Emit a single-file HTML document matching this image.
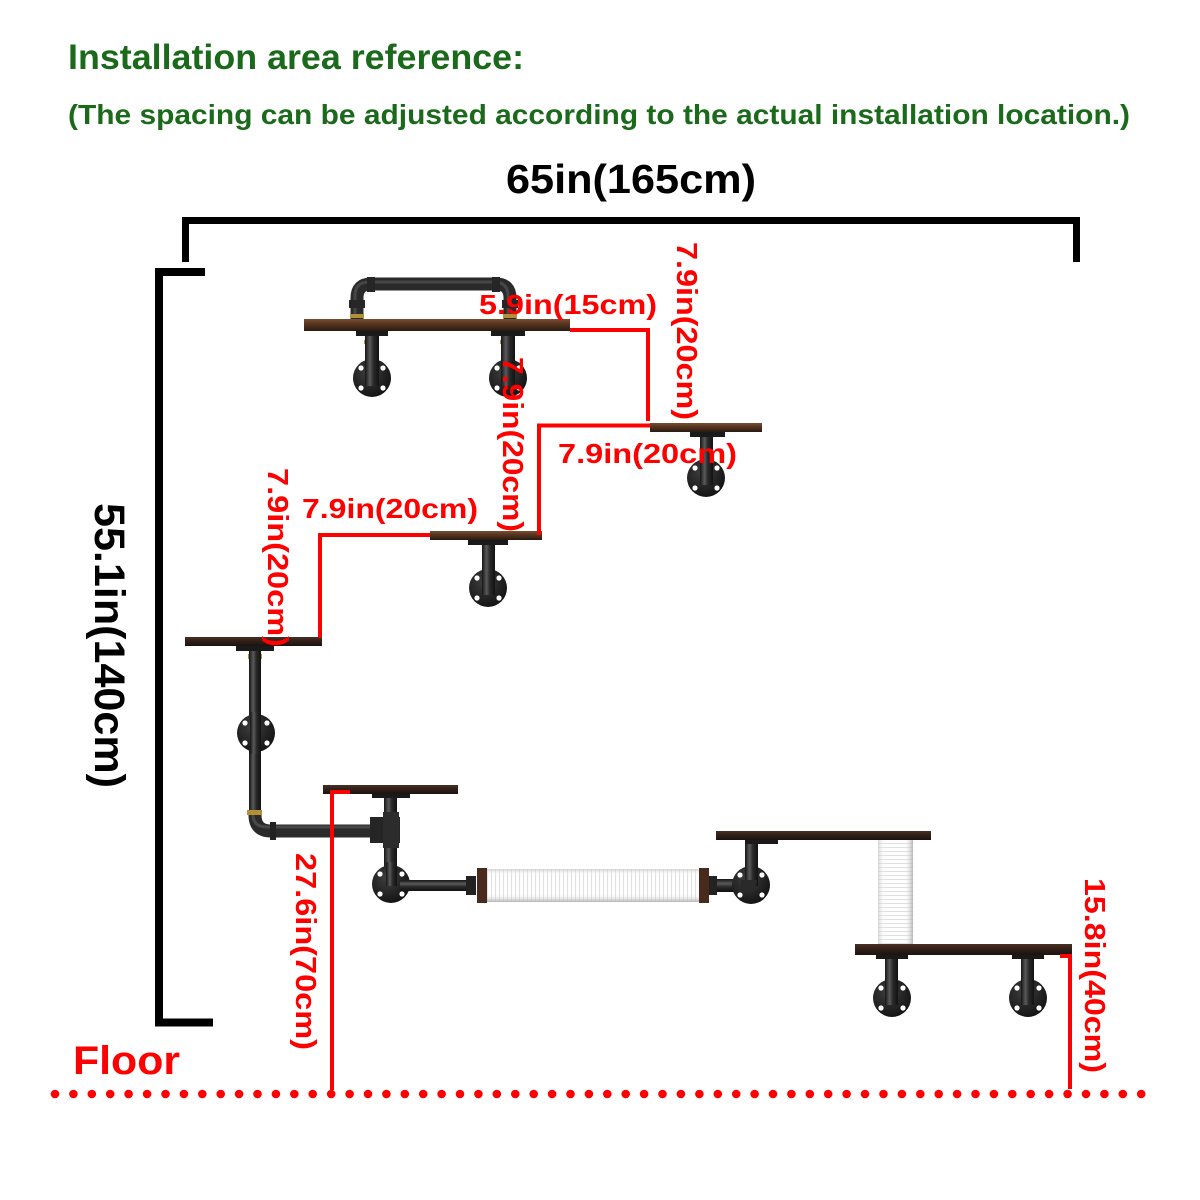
<!DOCTYPE html>
<html><head><meta charset="utf-8"><style>
html,body{margin:0;padding:0;background:#fff;}
svg{display:block;}
text{font-family:"Liberation Sans",Arial,sans-serif;font-weight:bold;}
</style></head><body>
<svg width="1200" height="1200" viewBox="0 0 1200 1200" xmlns="http://www.w3.org/2000/svg">
<defs>
 <linearGradient id="wood" x1="0" y1="0" x2="0" y2="1">
  <stop offset="0" stop-color="#7a4e30"/><stop offset="0.35" stop-color="#5a3822"/><stop offset="1" stop-color="#2a1a10"/>
 </linearGradient>
 <linearGradient id="wood2" x1="0" y1="0" x2="0" y2="1">
  <stop offset="0" stop-color="#4a3024"/><stop offset="0.4" stop-color="#33211a"/><stop offset="1" stop-color="#1c120d"/>
 </linearGradient>
 <linearGradient id="pv" x1="0" y1="0" x2="1" y2="0">
  <stop offset="0" stop-color="#151515"/><stop offset="0.35" stop-color="#5a5a5a"/><stop offset="0.6" stop-color="#2a2a2a"/><stop offset="1" stop-color="#111"/>
 </linearGradient>
 <linearGradient id="ph" x1="0" y1="0" x2="0" y2="1">
  <stop offset="0" stop-color="#151515"/><stop offset="0.35" stop-color="#5a5a5a"/><stop offset="0.6" stop-color="#2a2a2a"/><stop offset="1" stop-color="#111"/>
 </linearGradient>
 <linearGradient id="rollShadeH" x1="0" y1="0" x2="0" y2="1">
  <stop offset="0" stop-color="#bdbdbd" stop-opacity="0.6"/><stop offset="0.2" stop-color="#fff" stop-opacity="0"/><stop offset="0.75" stop-color="#fff" stop-opacity="0"/><stop offset="1" stop-color="#9a9a9a" stop-opacity="0.7"/>
 </linearGradient>
 <linearGradient id="rollShadeV" x1="0" y1="0" x2="1" y2="0">
  <stop offset="0" stop-color="#bdbdbd" stop-opacity="0.6"/><stop offset="0.2" stop-color="#fff" stop-opacity="0"/><stop offset="0.75" stop-color="#fff" stop-opacity="0"/><stop offset="1" stop-color="#9a9a9a" stop-opacity="0.7"/>
 </linearGradient>
 <radialGradient id="fl" cx="0.4" cy="0.35" r="0.75">
  <stop offset="0" stop-color="#3e3e3e"/><stop offset="1" stop-color="#0e0e0e"/>
 </radialGradient>
 <pattern id="ribV" width="4" height="10" patternUnits="userSpaceOnUse">
  <rect width="4" height="10" fill="#fdfdfd"/><rect x="3" width="1" height="10" fill="#e0e0e0"/>
 </pattern>
 <pattern id="ribH" width="10" height="4" patternUnits="userSpaceOnUse">
  <rect width="10" height="4" fill="#fdfdfd"/><rect y="3" width="10" height="1" fill="#e0e0e0"/>
 </pattern>
 <g id="flange">
  <circle r="19" fill="url(#fl)"/>
  <circle cx="-11" cy="-10" r="2.6" fill="#fff"/>
  <circle cx="11" cy="-10" r="2.6" fill="#fff"/>
  <circle cx="-11" cy="10" r="2.6" fill="#fff"/>
  <circle cx="11" cy="10" r="2.6" fill="#fff"/>
 </g>
</defs>

<!-- Header texts -->
<text x="68" y="69" font-size="35" fill="#1b6a1b" textLength="456" lengthAdjust="spacingAndGlyphs">Installation area reference:</text>
<text x="68" y="124" font-size="28" fill="#1b6a1b" textLength="1062" lengthAdjust="spacingAndGlyphs">(The spacing can be adjusted according to the actual installation location.)</text>
<text x="506" y="193" font-size="41" fill="#000" textLength="250" lengthAdjust="spacingAndGlyphs">65in(165cm)</text>

<!-- Top bracket -->
<path d="M185.5 262 V220.5 H1076.5 V262" fill="none" stroke="#000" stroke-width="7" stroke-linejoin="miter"/>
<!-- Left bracket -->
<path d="M205 272 H159 V1022.5 H213" fill="none" stroke="#000" stroke-width="8" stroke-linejoin="miter"/>
<text transform="translate(95,503) rotate(90)" font-size="43" fill="#000" textLength="285" lengthAdjust="spacingAndGlyphs">55.1in(140cm)</text>

<!-- ===== Shelf 1 with arch ===== -->
<path d="M357 319 V298 Q357 284 371 284 H496 Q510 284 510 298 V319" fill="none" stroke="#2a2a2a" stroke-width="13"/>
<path d="M357 319 V298 Q357 284 371 284 H496 Q510 284 510 298 V319" fill="none" stroke="#5a5a5a" stroke-width="3" transform="translate(-2,-2)" opacity="0.6"/>
<rect x="367" y="277" width="8" height="15" fill="#262626"/>
<rect x="492" y="277" width="8" height="15" fill="#262626"/>
<rect x="349" y="300" width="16" height="8" fill="#262626"/>
<rect x="502" y="300" width="16" height="8" fill="#262626"/>
<rect x="350" y="314" width="14" height="4" fill="#b0913a"/>
<rect x="503" y="314" width="14" height="4" fill="#b0913a"/>
<rect x="304" y="319" width="266" height="12" fill="url(#wood)"/>
<!-- below shelf 1 -->
<rect x="356" y="331" width="32" height="5" fill="#1a1a1a"/>
<rect x="491" y="331" width="34" height="5" fill="#1a1a1a"/>
<rect x="364" y="340" width="15" height="4" fill="#b0913a"/>
<rect x="500" y="340" width="15" height="4" fill="#b0913a"/>
<use href="#flange" x="372" y="378"/>
<use href="#flange" x="508" y="378"/>
<rect x="365" y="336" width="14" height="50" fill="url(#pv)"/>
<rect x="501" y="336" width="14" height="50" fill="url(#pv)"/>

<!-- ===== Shelf 2 ===== -->
<rect x="650" y="423" width="112" height="9" fill="url(#wood)"/>
<rect x="690" y="432" width="35" height="5" fill="#1a1a1a"/>
<rect x="700" y="440" width="13" height="4" fill="#b0913a"/>
<use href="#flange" x="706" y="478"/>
<rect x="700" y="437" width="13" height="48" fill="url(#pv)"/>

<!-- ===== Shelf 3 ===== -->
<rect x="430" y="531" width="112" height="9" fill="url(#wood)"/>
<rect x="468" y="540" width="40" height="5" fill="#1a1a1a"/>
<rect x="482" y="548" width="13" height="4" fill="#b0913a"/>
<use href="#flange" x="488" y="588"/>
<rect x="482" y="545" width="13" height="50" fill="url(#pv)"/>

<!-- ===== Shelf 4 and long pipe ===== -->
<rect x="185" y="637" width="137" height="9" fill="url(#wood2)"/>
<rect x="236" y="646" width="38" height="5" fill="#1a1a1a"/>
<rect x="248" y="654" width="14" height="5" fill="#b0913a"/>
<rect x="249" y="651" width="12" height="165" fill="url(#pv)"/>
<use href="#flange" x="256" y="733"/>
<rect x="250" y="712" width="11" height="42" fill="url(#pv)"/>
<rect x="247" y="810" width="15" height="5" fill="#b0913a"/>
<path d="M255 815 Q255 831 271 831 H385" fill="none" stroke="#2a2a2a" stroke-width="13"/>
<path d="M253 815 Q253 827 268 827 H385" fill="none" stroke="#555" stroke-width="3" opacity="0.7"/>
<rect x="270" y="822" width="6" height="18" fill="#222"/>

<!-- Shelf 5 with tee -->
<rect x="323" y="785" width="135" height="9" fill="url(#wood2)"/>
<rect x="372" y="794" width="38" height="4" fill="#1a1a1a"/>
<rect x="384" y="799" width="13" height="4" fill="#b0913a"/>
<rect x="384" y="798" width="13" height="90" fill="url(#pv)"/>
<rect x="370" y="817" width="30" height="26" fill="#252525"/>
<rect x="383" y="812" width="16" height="36" fill="#2c2c2c"/>
<use href="#flange" x="391" y="884"/>
<rect x="386" y="862" width="11" height="24" fill="url(#pv)"/>
<rect x="400" y="880" width="76" height="11" fill="url(#ph)"/>
<rect x="466" y="876" width="10" height="19" fill="#222"/>

<!-- Horizontal roller -->
<rect x="477" y="868" width="10" height="35" fill="#4a2a1c"/>
<rect x="487" y="869" width="212" height="33" fill="url(#ribV)"/>
<rect x="487" y="869" width="212" height="33" fill="url(#rollShadeH)"/>
<rect x="699" y="868" width="10" height="35" fill="#4a2a1c"/>
<rect x="709" y="879" width="30" height="13" fill="url(#ph)"/>
<rect x="709" y="876" width="8" height="19" fill="#222"/>

<!-- Shelf 6 -->
<rect x="716" y="831" width="215" height="9" fill="url(#wood2)"/>
<rect x="745" y="840" width="33" height="4" fill="#1a1a1a"/>
<rect x="745" y="846" width="13" height="3" fill="#b0913a"/>
<use href="#flange" x="751" y="885"/>
<rect x="745" y="844" width="13" height="42" fill="url(#pv)"/>
<path d="M751 880 Q751 886 741 886" fill="none" stroke="#2a2a2a" stroke-width="12"/>

<!-- Vertical roller -->
<rect x="878" y="840" width="35" height="104" fill="url(#ribH)"/>
<rect x="878" y="840" width="35" height="104" fill="url(#rollShadeV)"/>

<!-- Shelf 7 -->
<rect x="855" y="944" width="217" height="11" fill="url(#wood2)"/>
<rect x="876" y="955" width="32" height="4" fill="#1a1a1a"/>
<rect x="1012" y="955" width="32" height="4" fill="#1a1a1a"/>
<rect x="885" y="960" width="13" height="4" fill="#b0913a"/>
<rect x="1021" y="960" width="13" height="4" fill="#b0913a"/>
<use href="#flange" x="892" y="998"/>
<use href="#flange" x="1028" y="998"/>
<rect x="885" y="959" width="13" height="46" fill="url(#pv)"/>
<rect x="1021" y="959" width="13" height="46" fill="url(#pv)"/>

<!-- ===== Red dimension lines ===== -->
<g stroke="#ff0000" stroke-width="4" fill="none">
 <path d="M570 330 H648 V421"/>
 <path d="M650 425.5 H539 V535"/>
 <path d="M430 535 H320 V638"/>
 <path d="M350 792 H332 V1090"/>
 <path d="M1060 956 H1070 V1089"/>
</g>

<!-- Floor dotted line -->
<g fill="#ff0000">
 <circle cx="55" cy="1094" r="4.3"/><circle cx="73.4" cy="1094" r="4.3"/><circle cx="91.8" cy="1094" r="4.3"/><circle cx="110.2" cy="1094" r="4.3"/><circle cx="128.6" cy="1094" r="4.3"/><circle cx="147.1" cy="1094" r="4.3"/><circle cx="165.5" cy="1094" r="4.3"/><circle cx="183.9" cy="1094" r="4.3"/><circle cx="202.3" cy="1094" r="4.3"/><circle cx="220.7" cy="1094" r="4.3"/>
 <circle cx="239.1" cy="1094" r="4.3"/><circle cx="257.5" cy="1094" r="4.3"/><circle cx="275.9" cy="1094" r="4.3"/><circle cx="294.3" cy="1094" r="4.3"/><circle cx="312.7" cy="1094" r="4.3"/><circle cx="331.2" cy="1094" r="4.3"/><circle cx="349.6" cy="1094" r="4.3"/><circle cx="368" cy="1094" r="4.3"/><circle cx="386.4" cy="1094" r="4.3"/><circle cx="404.8" cy="1094" r="4.3"/>
 <circle cx="423.2" cy="1094" r="4.3"/><circle cx="441.6" cy="1094" r="4.3"/><circle cx="460" cy="1094" r="4.3"/><circle cx="478.4" cy="1094" r="4.3"/><circle cx="496.8" cy="1094" r="4.3"/><circle cx="515.3" cy="1094" r="4.3"/><circle cx="533.7" cy="1094" r="4.3"/><circle cx="552.1" cy="1094" r="4.3"/><circle cx="570.5" cy="1094" r="4.3"/><circle cx="588.9" cy="1094" r="4.3"/>
 <circle cx="607.3" cy="1094" r="4.3"/><circle cx="625.7" cy="1094" r="4.3"/><circle cx="644.1" cy="1094" r="4.3"/><circle cx="662.5" cy="1094" r="4.3"/><circle cx="680.9" cy="1094" r="4.3"/><circle cx="699.4" cy="1094" r="4.3"/><circle cx="717.8" cy="1094" r="4.3"/><circle cx="736.2" cy="1094" r="4.3"/><circle cx="754.6" cy="1094" r="4.3"/><circle cx="773" cy="1094" r="4.3"/>
 <circle cx="791.4" cy="1094" r="4.3"/><circle cx="809.8" cy="1094" r="4.3"/><circle cx="828.2" cy="1094" r="4.3"/><circle cx="846.6" cy="1094" r="4.3"/><circle cx="865" cy="1094" r="4.3"/><circle cx="883.5" cy="1094" r="4.3"/><circle cx="901.9" cy="1094" r="4.3"/><circle cx="920.3" cy="1094" r="4.3"/><circle cx="938.7" cy="1094" r="4.3"/><circle cx="957.1" cy="1094" r="4.3"/>
 <circle cx="975.5" cy="1094" r="4.3"/><circle cx="993.9" cy="1094" r="4.3"/><circle cx="1012.3" cy="1094" r="4.3"/><circle cx="1030.7" cy="1094" r="4.3"/><circle cx="1049.1" cy="1094" r="4.3"/><circle cx="1067.6" cy="1094" r="4.3"/><circle cx="1086" cy="1094" r="4.3"/><circle cx="1104.4" cy="1094" r="4.3"/><circle cx="1122.8" cy="1094" r="4.3"/><circle cx="1141.2" cy="1094" r="4.3"/>
</g>

<!-- ===== Red labels ===== -->
<g fill="#ff0000">
 <text x="479" y="314" font-size="28" textLength="178" lengthAdjust="spacingAndGlyphs">5.9in(15cm)</text>
 <text x="558" y="463" font-size="28" textLength="179" lengthAdjust="spacingAndGlyphs">7.9in(20cm)</text>
 <text x="302" y="518" font-size="28" textLength="176" lengthAdjust="spacingAndGlyphs">7.9in(20cm)</text>
 <text transform="translate(677,242) rotate(90)" font-size="29" textLength="178" lengthAdjust="spacingAndGlyphs">7.9in(20cm)</text>
 <text transform="translate(503,357) rotate(90)" font-size="29" textLength="175" lengthAdjust="spacingAndGlyphs">7.9in(20cm)</text>
 <text transform="translate(268,468) rotate(90)" font-size="29" textLength="179" lengthAdjust="spacingAndGlyphs">7.9in(20cm)</text>
 <text transform="translate(296,853) rotate(90)" font-size="29" textLength="197" lengthAdjust="spacingAndGlyphs">27.6in(70cm)</text>
 <text transform="translate(1085,878) rotate(90)" font-size="29" textLength="195" lengthAdjust="spacingAndGlyphs">15.8in(40cm)</text>
 <text x="73" y="1074" font-size="40" textLength="107" lengthAdjust="spacingAndGlyphs">Floor</text>
</g>
</svg>
</body></html>
